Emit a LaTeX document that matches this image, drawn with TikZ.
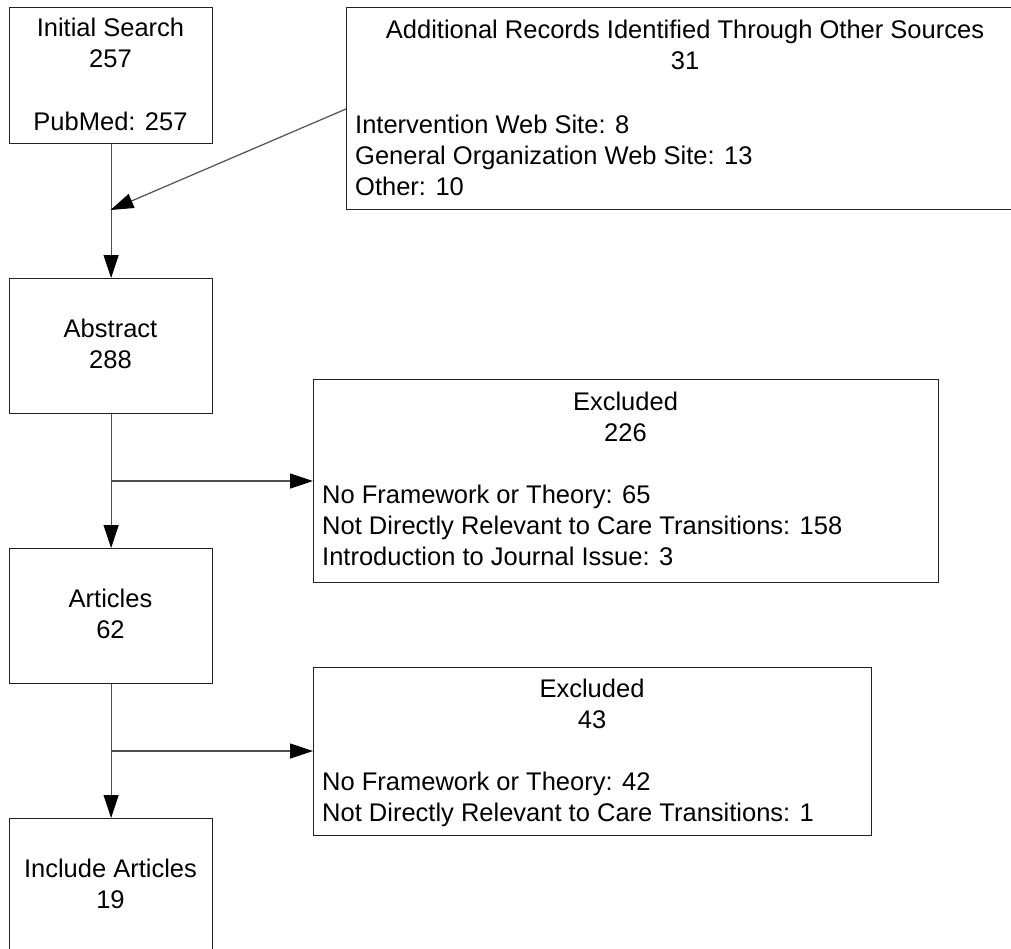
\documentclass[tikz,border=0pt]{standalone}
\usepackage{fontspec}
\setmainfont{Liberation Sans}
\usetikzlibrary{arrows.meta}
\definecolor{edge}{HTML}{222222}
\definecolor{wire}{HTML}{505050}
\begin{document}
\begin{tikzpicture}[x=1pt,y=-1pt,
  box/.style={draw=edge,line width=1.2pt,fill=none,inner sep=0pt,anchor=north west},
  txt/.style={inner sep=0pt,anchor=base,font=\fontsize{25.5}{30}\selectfont},
  ltxt/.style={txt,anchor=base west},
  wireline/.style={draw=wire,line width=1.2pt},
  flow/.style={wireline,-{Triangle[length=23pt,width=15pt,color=black]}}
]
\useasboundingbox (0,0) rectangle (1011,948);

% boxes
\node[box,minimum width=203,minimum height=136] (init) at (9,7) {};
\node[box,minimum width=678,minimum height=202] (add) at (346,7) {};
\node[box,minimum width=203,minimum height=135] (abs) at (9,278) {};
\node[box,minimum width=625,minimum height=203] (exa) at (313,379) {};
\node[box,minimum width=203,minimum height=135] (art) at (9,548) {};
\node[box,minimum width=558,minimum height=168] (exb) at (313,667) {};
\node[box,minimum width=203,minimum height=150] (inc) at (9,818) {};

% box texts
\node[txt] (initA) at (110.5,36) {Initial Search};
\node[txt] (initB) at (110.5,67) {257};
\node[txt] (initC) at (110.5,130) {PubMed: 257};

\node[txt] (addA) at (685,38) {Additional Records Identified Through Other Sources};
\node[txt] (addB) at (685,69) {31};
\node[ltxt] (addC) at (355,133) {Intervention Web Site: 8};
\node[ltxt] (addD) at (355,164) {General Organization Web Site: 13};
\node[ltxt] (addE) at (355,195) {Other: 10};

\node[txt] (absA) at (110.5,337) {Abstract};
\node[txt] (absB) at (110.5,368) {288};

\node[txt] (exaA) at (625.5,410) {Excluded};
\node[txt] (exaB) at (625.5,441) {226};
\node[ltxt] (exaC) at (322,503) {No Framework or Theory: 65};
\node[ltxt] (exaD) at (322,534) {Not Directly Relevant to Care Transitions: 158};
\node[ltxt] (exaE) at (322,565) {Introduction to Journal Issue: 3};

\node[txt] (artA) at (110.5,607) {Articles};
\node[txt] (artB) at (110.5,638) {62};

\node[txt] (exbA) at (592,697) {Excluded};
\node[txt] (exbB) at (592,728) {43};
\node[ltxt] (exbC) at (322,790) {No Framework or Theory: 42};
\node[ltxt] (exbD) at (322,821) {Not Directly Relevant to Care Transitions: 1};

\node[txt] (incA) at (110.5,877) {Include Articles};
\node[txt] (incB) at (110.5,908) {19};

% junction points
\coordinate (addout) at (346,109);
\coordinate (merge) at (110.5,210);
\coordinate (splitA) at (110.5,481);
\coordinate (splitB) at (110.5,751);

% connectors
\draw[flow] (init.south) -- (abs.north);
\draw[flow] (addout) -- (merge);
\draw[flow] (abs.south) -- (art.north);
\draw[flow] (splitA) -- (splitA -| exa.west);
\draw[flow] (art.south) -- (inc.north);
\draw[flow] (splitB) -- (splitB -| exb.west);
\end{tikzpicture}
\end{document}
